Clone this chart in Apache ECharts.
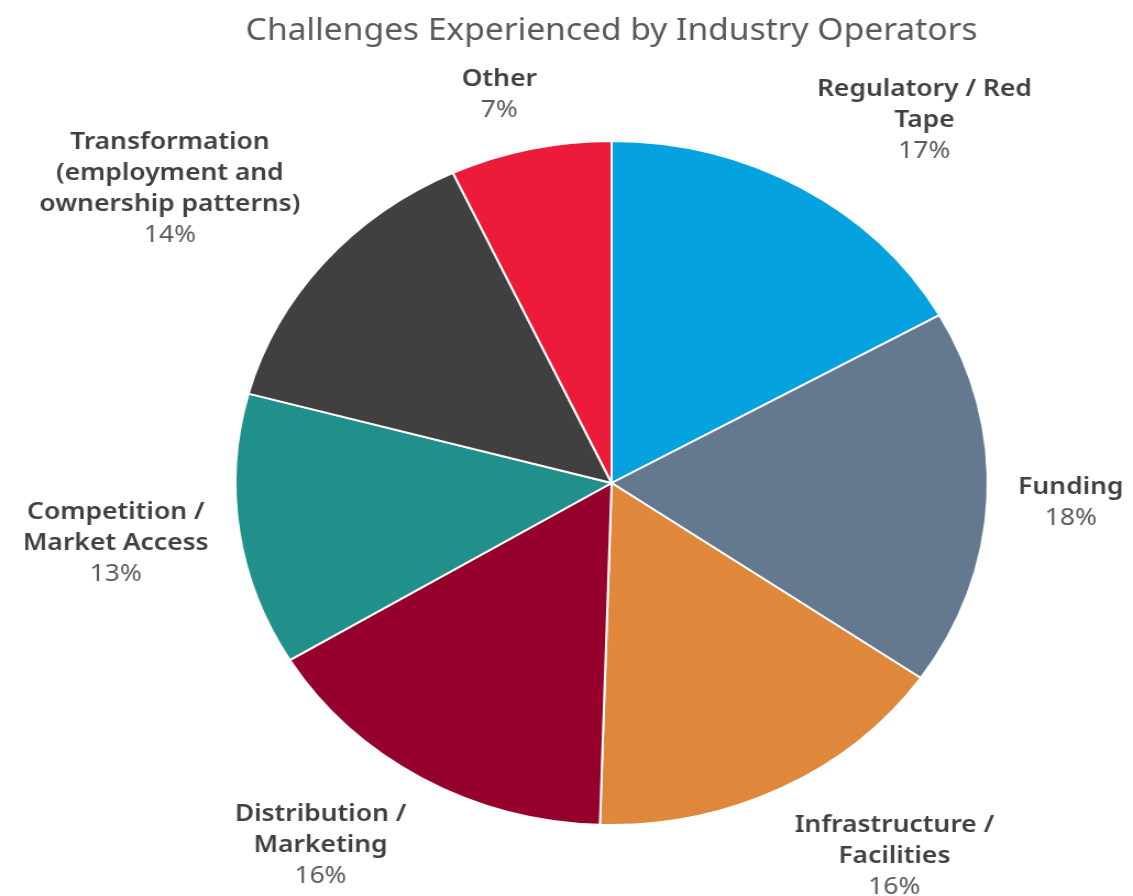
<!DOCTYPE html>
<html>
<head>
<meta charset="utf-8">
<script src="https://cdn.jsdelivr.net/npm/echarts@6/dist/echarts.min.js"></script>
<style>
  html, body { margin: 0; padding: 0; overflow: hidden; background: #fff; }
  /* the source picture is stretched sideways, so the chart is too */
  #chart { width: 1112px; height: 896px; transform: scaleX(1.1); transform-origin: 0 0; }
</style>
</head>
<body>
<div id="chart"></div>
<script>
const titleText = 'Challenges Experienced by Industry Operators';
const categories = [
    'Regulatory / Red\nTape',
    'Funding',
    'Infrastructure /\nFacilities',
    'Distribution /\nMarketing',
    'Competition /\nMarket Access',
    'Transformation\n(employment and\nownership patterns)',
    'Other',
];
const shares = [17, 18, 16, 16, 13, 14, 7];
const colors = ['#04a3e0', '#64798f', '#df873a', '#95002d', '#218f8a', '#404040', '#ec1b3a'];

const FONT = '"Noto Sans", sans-serif';
const labelGap = 28;

const chart = echarts.init(document.getElementById('chart'));

// put the label so that its nearest edge sits just outside the slice, on the mid-angle ray
const placeLabel = p => {
    const lay = chart.getModel().getSeriesByIndex(0).getData().getItemLayout(p.dataIndex);
    const mid = (lay.startAngle + lay.endAngle) / 2;
    const ux = Math.cos(mid), uy = Math.sin(mid);
    const d = lay.r + labelGap;
    const hw = p.labelRect.width / 2, hh = p.labelRect.height / 2;
    return {
        x: lay.cx + ux * d + Math.sign(ux) * hw * Math.min(1, Math.abs(ux) * 3),
        y: lay.cy + uy * d + Math.sign(uy) * hh * Math.min(1, Math.abs(uy) * 1.5),
        align: 'center',
        verticalAlign: 'middle',
    };
};

chart.setOption({
    title: {
        text: titleText,
        left: 'center',
        top: 11,
        textStyle: { fontFamily: FONT, fontSize: 30.5, fontWeight: 'normal', color: '#595959' },
    },
    series: [{
        type: 'pie',
        center: ['50%', 483],
        radius: [0, 342],
        startAngle: 90,
        avoidLabelOverlap: false,
        itemStyle: { borderColor: '#fff', borderWidth: 2 },
        label: {
            show: true,
            position: 'outside',
            overflow: 'none',
            formatter: p => p.name.split('\n').map(s => `{n|${s}}`).join('\n') + `\n{p|${p.value}%}`,
            rich: {
                n: { fontFamily: FONT, fontSize: 24, fontWeight: 600, color: '#404040', lineHeight: 31, align: 'center' },
                p: { fontFamily: FONT, fontSize: 24, color: '#595959', lineHeight: 31, align: 'center' },
            },
        },
        labelLine: { show: false, length: 20, length2: 10 },
        labelLayout: placeLabel,
        data: categories.map((name, i) => ({ name, value: shares[i], itemStyle: { color: colors[i] } })),
    }],
});
</script>
</body>
</html>
